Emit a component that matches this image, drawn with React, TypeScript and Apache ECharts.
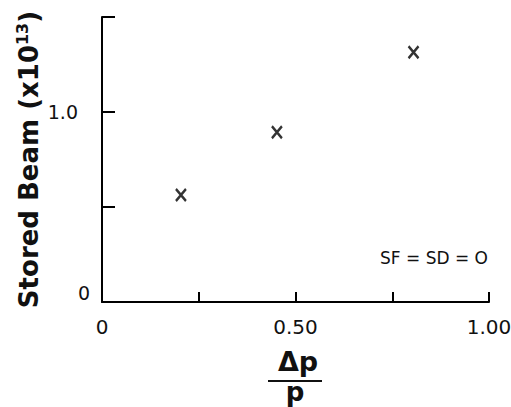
import React, { useEffect, useRef } from "react";
import * as echarts from "echarts";

const momentumSpread = [0.204, 0.452, 0.805];
const storedBeam = [0.563, 0.893, 1.314];
const xTickLabels: Record<string, string> = { "0": "0", "0.5": "0.50", "1": "1.00" };
const yTickLabels: Record<string, string> = { "0": "{z|0}", "1": "{o|1.0}" };
const annotation = "SF = SD = O";

const FONT = "'DejaVu Sans', 'Liberation Sans', sans-serif";

export default function App() {
  const ref = useRef<HTMLDivElement>(null);
  useEffect(() => {
    if (!ref.current) return;
    const chart = echarts.init(ref.current, null, { renderer: "svg" });
    chart.setOption({
      animation: false,
      backgroundColor: "#fff",
      grid: { left: 102, right: 22, top: 17, bottom: 105, containLabel: false, outerBoundsMode: "none" },
      xAxis: {
        type: "value",
        min: 0,
        max: 1,
        interval: 0.25,
        axisLine: { lineStyle: { color: "#000", width: 2 } },
        axisTick: { inside: true, length: 10, lineStyle: { color: "#000", width: 2 } },
        splitLine: { show: false },
        axisLabel: {
          margin: 15,
          color: "#111",
          fontFamily: FONT,
          fontSize: 20,
          hideOverlap: false,
          formatter: (v: number) => xTickLabels[String(v)] ?? "",
        },
      },
      yAxis: {
        type: "value",
        min: 0,
        max: 1.5,
        interval: 0.5,
        name: "{b|Stored Beam (x10}{s|13}{b|)}",
        nameLocation: "middle",
        nameRotate: 90,
        nameGap: 58,
        nameMoveOverlap: false,
        nameTextStyle: {
          rich: {
            b: { fontFamily: FONT, fontWeight: "bold", fontSize: 26, color: "#111" },
            s: { fontFamily: FONT, fontWeight: "bold", fontSize: 16, color: "#111", verticalAlign: "top", padding: [0, 0, 14, 0] },
          },
        },
        axisLine: { show: true, lineStyle: { color: "#000", width: 2 } },
        axisTick: { show: true, inside: true, length: 13, lineStyle: { color: "#000", width: 2 } },
        splitLine: { show: false },
        axisLabel: {
          margin: 12,
          color: "#111",
          fontFamily: FONT,
          fontSize: 19,
          formatter: (v: number) => yTickLabels[String(v)] ?? "",
          rich: {
            z: { fontFamily: FONT, fontSize: 19, color: "#111", padding: [0, 0, 18, 0] },
            o: { fontFamily: FONT, fontSize: 19, color: "#111", padding: [0, 12, 0, 0] },
          },
        },
      },
      series: [
        {
          type: "scatter",
          data: momentumSpread.map((x, i) => [x, storedBeam[i]]),
          symbol: "path://M0 0L10 12M10 0L0 12",
          symbolSize: [10, 12],
          itemStyle: { color: "transparent", borderColor: "#000", borderWidth: 2.5 },
        },
      ],
      graphic: [
        {
          type: "text",
          x: 434,
          y: 258,
          style: { text: annotation, fontFamily: FONT, fontSize: 17, fill: "#111", align: "center", verticalAlign: "middle" },
        },
        {
          type: "text",
          x: 298,
          y: 361,
          style: { text: "Δp", fontFamily: FONT, fontWeight: "bold", fontSize: 27, fill: "#111", align: "center", verticalAlign: "middle" },
        },
        {
          type: "line",
          shape: { x1: 268, y1: 381, x2: 322, y2: 381 },
          style: { stroke: "#111", lineWidth: 2 },
        },
        {
          type: "text",
          x: 295,
          y: 392,
          style: { text: "p", fontFamily: FONT, fontWeight: "bold", fontSize: 26, fill: "#111", align: "center", verticalAlign: "middle" },
        },
      ],
    });
    return () => chart.dispose();
  }, []);
  return <div ref={ref} style={{ width: 511, height: 407, position: "fixed", left: 0, top: 0 }} />;
}
